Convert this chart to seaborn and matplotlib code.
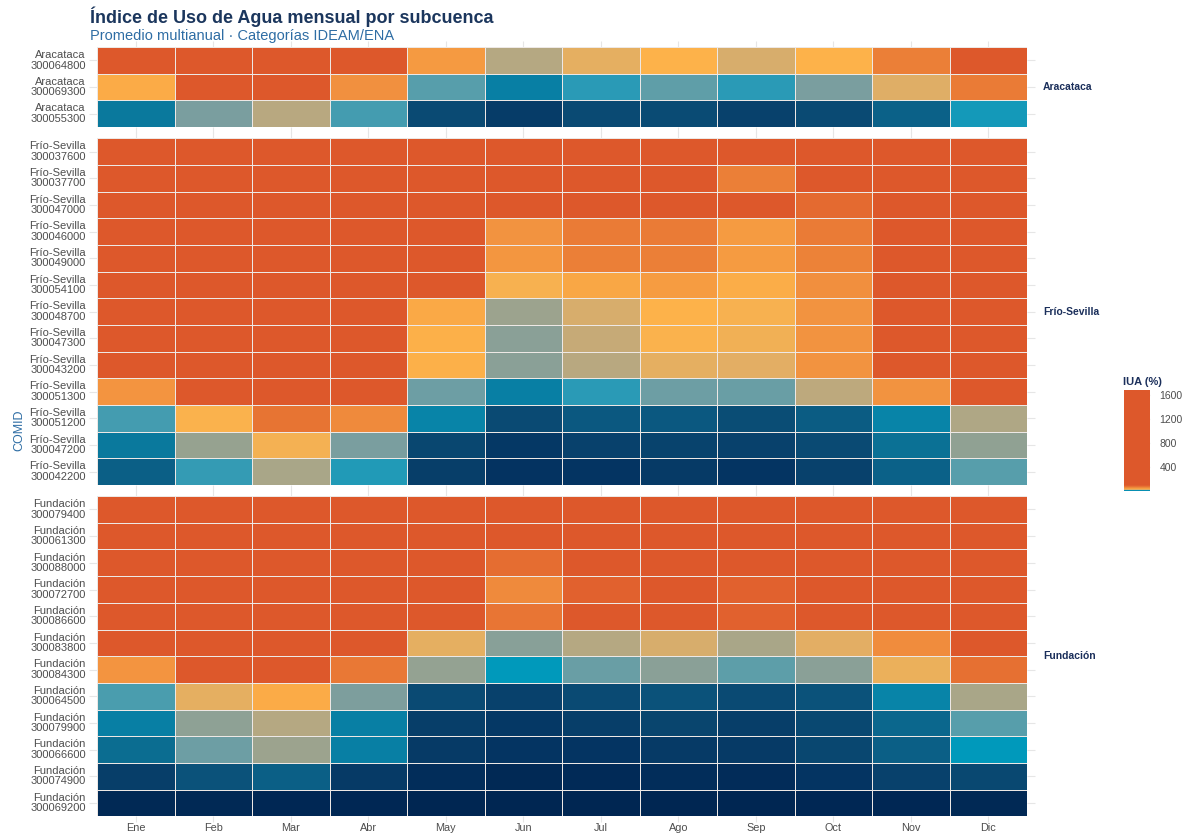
import numpy as np
import pandas as pd
import matplotlib
matplotlib.use("Agg")
import matplotlib.pyplot as plt
import seaborn as sns
from matplotlib.colors import LinearSegmentedColormap, Normalize

months = ["Ene", "Feb", "Mar", "Abr", "May", "Jun", "Jul", "Ago", "Sep", "Oct", "Nov", "Dic"]

comid_aracataca = ["300064800", "300069300", "300055300"]
iua_aracataca = [
    [412, 538, 497, 236, 45, 20, 26, 30, 24, 30, 65, 188],
    [34, 162, 148, 52, 12.5, 6, 11, 13, 11, 15, 25, 68],
    [5.5, 15, 20.5, 11.8, 2.3, 1.5, 2.3, 2.4, 1.8, 2.3, 4.2, 10.5],
]

comid_frio = ["300037600", "300037700", "300047000", "300046000", "300049000", "300054100",
              "300048700", "300047300", "300043200", "300051300", "300051200", "300047200",
              "300042200"]
iua_frio = [
    [1680, 1530, 1410, 1190, 720, 390, 455, 512, 298, 336, 604, 1120],
    [1240, 1105, 986, 874, 402, 186, 214, 240, 65, 162, 395, 812],
    [968, 902, 845, 706, 285, 118, 142, 156, 104, 80, 246, 633],
    [712, 688, 642, 528, 166, 50, 68, 68, 44, 68, 188, 472],
    [655, 640, 596, 488, 152, 48, 65, 65, 44, 63, 172, 436],
    [590, 575, 548, 430, 128, 29, 36, 43, 33, 53, 158, 398],
    [534, 520, 487, 372, 35, 18, 24, 30, 29, 50, 136, 355],
    [478, 455, 431, 318, 31, 16.5, 22, 29.5, 28, 50, 124, 312],
    [420, 402, 389, 276, 31, 16.5, 20.5, 26, 25.5, 50, 115, 284],
    [49, 126, 142, 108, 14, 6, 11, 14, 13.7, 21, 50, 118],
    [11.8, 29.5, 73, 57, 6.5, 2.3, 3.3, 3.3, 2.5, 3.7, 6.5, 19.5],
    [5.5, 17.5, 28.5, 15, 2.1, 1.3, 1.8, 1.9, 1.8, 2.3, 5, 17],
    [4, 11.3, 19, 10.8, 1.6, 1, 1.1, 1.4, 1.1, 1.8, 4.2, 12.5],
]

comid_fund = ["300079400", "300061300", "300088000", "300072700", "300086600", "300083800",
              "300084300", "300064500", "300079900", "300066600", "300074900", "300069200"]
iua_fund = [
    [1450, 1380, 1265, 1040, 610, 342, 386, 420, 305, 288, 512, 968],
    [1085, 1020, 948, 812, 455, 236, 268, 295, 212, 204, 388, 746],
    [842, 796, 730, 612, 318, 78, 186, 204, 148, 142, 276, 560],
    [624, 590, 548, 452, 224, 57, 90, 148, 90, 106, 204, 418],
    [508, 482, 446, 372, 182, 72, 112, 120, 90, 104, 168, 340],
    [305, 292, 268, 215, 26, 16.3, 20, 24, 19, 25.5, 55, 196],
    [49, 142, 168, 70, 17.3, 10, 13.7, 16.5, 12.8, 16.5, 27, 76],
    [12, 26, 34, 15.3, 2.3, 1.8, 2.3, 2.8, 2.3, 2.8, 6.5, 19],
    [6, 16.8, 20, 6, 1.6, 1.3, 1.6, 2, 1.6, 2.2, 4.5, 12.5],
    [4.8, 14, 18, 6, 1.4, 1.1, 1.1, 1.4, 1.4, 2.1, 4, 10],
    [1.6, 2.8, 4, 1.4, 0.6, 0.3, 0.4, 0.6, 0.5, 1.1, 1.8, 2.2],
    [0.3, 0.25, 0.2, 0.2, 0.1, 0.05, 0.08, 0.1, 0.1, 0.15, 0.2, 0.25],
]

facets = [("Aracataca", comid_aracataca, iua_aracataca),
          ("Frío-Sevilla", comid_frio, iua_frio),
          ("Fundación", comid_fund, iua_fund)]

# colour scale (IUA %), strongly compressed toward the low categories
scale_vals = [0, 1, 2, 3, 4, 5, 6, 8, 10, 11, 12.5, 15, 17.5, 20, 25, 30, 40, 50, 65, 80, 100]
scale_cols = ["#002652", "#043462", "#09466f", "#0b557d", "#0b5f86", "#0b7396", "#0880a5",
              "#0890b3", "#0099bb", "#2b9ab6", "#5a9eaa", "#7a9e9f", "#97a290", "#b5a882",
              "#e0ae66", "#fdb24a", "#f7a042", "#f29340", "#eb7f37", "#e46a30", "#dd582b"]

vmax = max(max(max(r) for r in f[2]) for f in facets)
stops = [(v / vmax, c) for v, c in zip(scale_vals, scale_cols)] + [(1.0, "#dd582b")]
cmap = LinearSegmentedColormap.from_list("iua", stops, N=16384)

sns.set_theme(style="white")
plt.rcParams['font.family'] = ['Liberation Sans', 'DejaVu Sans']

navy = "#1b2f5b"
grey = "#4d4d4d"

fig = plt.figure(figsize=(11.88, 8.35), dpi=100)
gs = fig.add_gridspec(3, 1, height_ratios=[3, 13, 12], left=0.0817, right=0.8645,
                      top=0.9437, bottom=0.0225, hspace=0.045)

for i, (name, comids, vals) in enumerate(facets):
    ax = fig.add_subplot(gs[i])
    df = pd.DataFrame(vals, index=[f"{name}\n{c}" for c in comids], columns=months)
    sns.heatmap(df, ax=ax, cmap=cmap, vmin=0, vmax=vmax, cbar=False,
                linewidths=0.5, linecolor="#ede8e5")
    ax.set_xlabel("")
    ax.set_ylabel("")
    ax.set_yticklabels(ax.get_yticklabels(), rotation=0, ha="right", linespacing=1.05)
    ax.tick_params(axis="y", left=True, right=True, length=6, width=0.8, color="#e6e6e6",
                   labelsize=8, labelcolor=grey, pad=2)
    ax.tick_params(axis="x", top=True, bottom=True, length=4, width=0.8, color="#e6e6e6",
                   labelsize=7.8, labelcolor=grey, labelbottom=(i == 2), labelrotation=0, pad=1)
    ax.text(1.017, 0.5, name, transform=ax.transAxes, fontweight="bold", fontsize=7.5,
            color=navy, va="center", ha="left")

fig.text(0.0758, 0.980, "Índice de Uso de Agua mensual por subcuenca", fontweight="bold",
         fontsize=13, color="#1b365d", va="center", ha="left")
fig.text(0.0758, 0.957, "Promedio multianual · Categorías IDEAM/ENA", fontsize=10.5,
         color="#2e6da4", va="center", ha="left")
fig.text(0.016, 0.485, "COMID", rotation=90, fontsize=9, color="#2e6da4", va="center", ha="center")

cax = fig.add_axes([0.946, 0.412, 0.0219, 0.121])
sm = plt.cm.ScalarMappable(norm=Normalize(0, vmax), cmap=cmap)
cb = fig.colorbar(sm, cax=cax, ticks=[400, 800, 1200, 1600])
cb.outline.set_visible(False)
cax.tick_params(direction="in", length=4, width=0.8, color="#f0f0f0", left=True, right=True,
                labelsize=7.5, labelcolor=grey, pad=7)
fig.text(0.9453, 0.5425, "IUA (%)", fontweight="bold", fontsize=8, color=navy,
         va="center", ha="left")

fig.savefig("out.png", dpi=100)
